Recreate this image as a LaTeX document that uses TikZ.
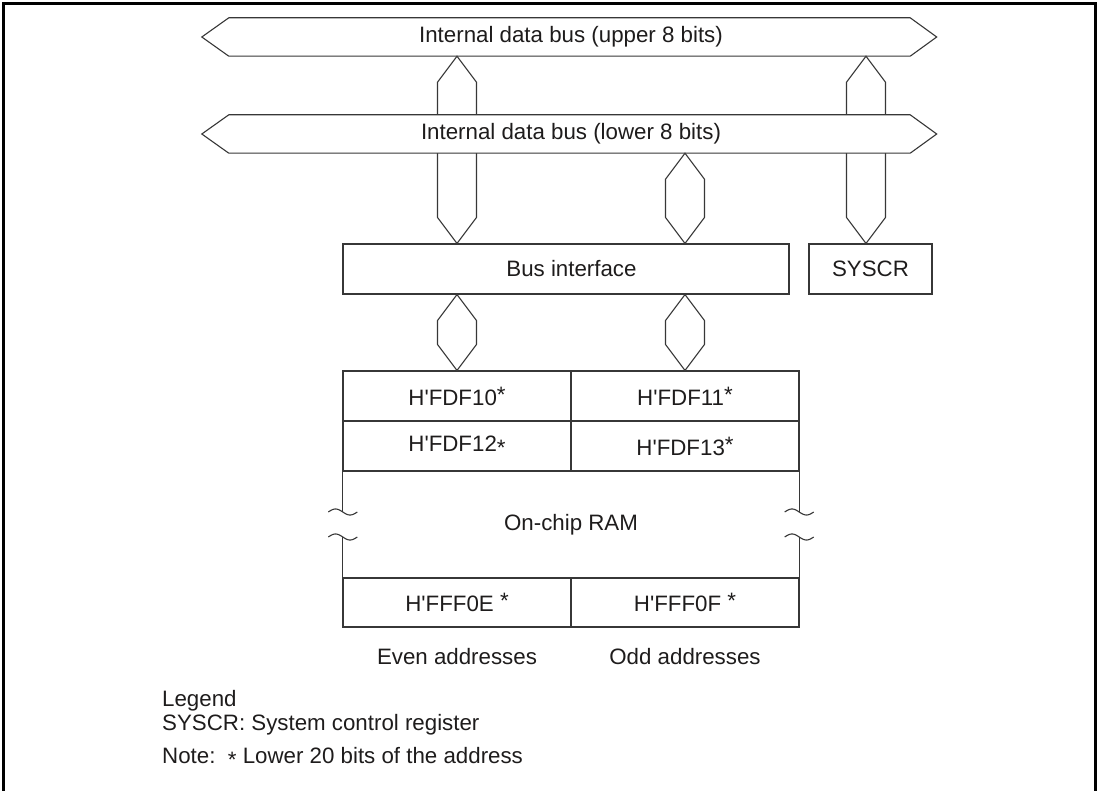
\documentclass[tikz,border=0pt]{standalone}
\usepackage{fontspec}
\setmainfont{Liberation Sans}
\usetikzlibrary{calc}
\definecolor{ink}{RGB}{30,28,28}
\definecolor{lnc}{RGB}{55,55,55}
\tikzset{
  ln/.style={draw=lnc, line width=1.1pt, line join=miter},
  txt/.style={text=ink, inner sep=0pt, font=\fontsize{22.3}{26}\selectfont},
  box/.style={ln, rectangle, inner sep=0pt},
  cell/.style={box, txt, minimum width=228pt, minimum height=50pt},
}
\newcommand\astup{\raisebox{3pt}{*}}
\newcommand\astdn{\raisebox{-4pt}{*}}
\newcommand\q{\textquotesingle}
% vertical bus connector: #1 = x, #2 = top anchor, #3 = bottom anchor
\newcommand\vbus[3]{%
  \coordinate (vx) at (#1,0);
  \coordinate (vt) at (vx |- #2);
  \coordinate (vb) at (vx |- #3);
  \draw[ln, fill=white] (vt) -- ($(vt)+(19.5,26)$) -- ($(vb)+(19.5,-26)$) -- (vb)
    -- ($(vb)+(-19.5,-26)$) -- ($(vt)+(-19.5,26)$) -- cycle;}
\begin{document}
\begin{tikzpicture}[x=1pt,y=-1pt]
\useasboundingbox (0,0) rectangle (1101,791);
% frame (open at the bottom)
\draw[line width=2.8pt, line join=miter] (3.7,791) -- (3.7,3.2) -- (1095.3,3.2) -- (1095.3,791);

% node placements
\node[minimum width=681pt, minimum height=38pt, inner sep=0pt] (ubus) at (569.5,37) {};
\node[minimum width=681pt, minimum height=38pt, inner sep=0pt] (lbus) at (569.5,134) {};
\node[box, minimum width=446pt, minimum height=50pt] (bi) at (566,269) {};
\node[txt] (bitxt) at (571.5,269) {Bus interface};
\node[box, txt, minimum width=123pt, minimum height=50pt] (syscr) at (870.5,269) {SYSCR};

% upper bus
\draw[ln] (ubus.north west) -- (ubus.north east) -- ($(ubus.east)+(26.5,0)$)
  -- (ubus.south east) -- (ubus.south west) -- ($(ubus.west)+(-27,0)$) -- cycle;
\node[txt] (ubustxt) at (571,37) {Internal data bus (upper 8 bits)};

% long connectors from upper bus
\vbus{457}{ubus.south}{bi.north}
\vbus{866}{ubus.south}{syscr.north}

% lower bus (covers the long connectors)
\draw[ln, fill=white] (lbus.north west) -- (lbus.north east) -- ($(lbus.east)+(26.5,0)$)
  -- (lbus.south east) -- (lbus.south west) -- ($(lbus.west)+(-27,0)$) -- cycle;
\node[txt] (lbustxt) at (571,134) {Internal data bus (lower 8 bits)};

\vbus{685}{lbus.south}{bi.north}

% RAM
\node[cell] (r10) at (457,396) {H\q FDF10\astup};
\node[cell] (r11) at (685,396) {H\q FDF11\astup};
\node[cell] (r12) at (457,446) {H\q FDF12\astdn};
\node[cell] (r13) at (685,446) {H\q FDF13\astup};
\node[txt, minimum width=456pt, minimum height=107pt] (ram) at (571,524.5) {On-chip RAM};
\node[cell, minimum height=49pt] (r0e) at (457,602.5) {H\q FFF0E \astup};
\node[cell, minimum height=49pt] (r0f) at (685,602.5) {H\q FFF0F \astup};

\draw[ln] (ram.north west) -- ($(ram.west)+(0,-12.5)$);
\draw[ln] ($(ram.west)+(0,12.5)$) -- (ram.south west);
\draw[ln] (ram.north east) -- ($(ram.east)+(0,-12.5)$);
\draw[ln] ($(ram.east)+(0,12.5)$) -- (ram.south east);
\foreach \a in {west,east}{
  \foreach \d in {-12.5,12.5}{
    \draw[ln, shift={($(ram.\a)+(-14.5,\d)$)}] plot[domain=0:29,samples=40,smooth] (\x,{-3*sin(\x*360/29)});
  }
}

% connectors from bus interface to RAM
\vbus{457}{bi.south}{r10.north}
\vbus{685}{bi.south}{r11.north}

% labels
\node[txt] (even) at (457,657) {Even addresses};
\node[txt] (odd) at (685,657) {Odd addresses};
\node[txt, anchor=base west] (leg) at (162,706) {Legend};
\node[txt, anchor=base west] (sys) at (162,730) {SYSCR: System control register};
\node[txt, anchor=base west] (note) at (162,763) {Note:\ \ \astdn\ Lower 20 bits of the address};
\end{tikzpicture}
\end{document}
